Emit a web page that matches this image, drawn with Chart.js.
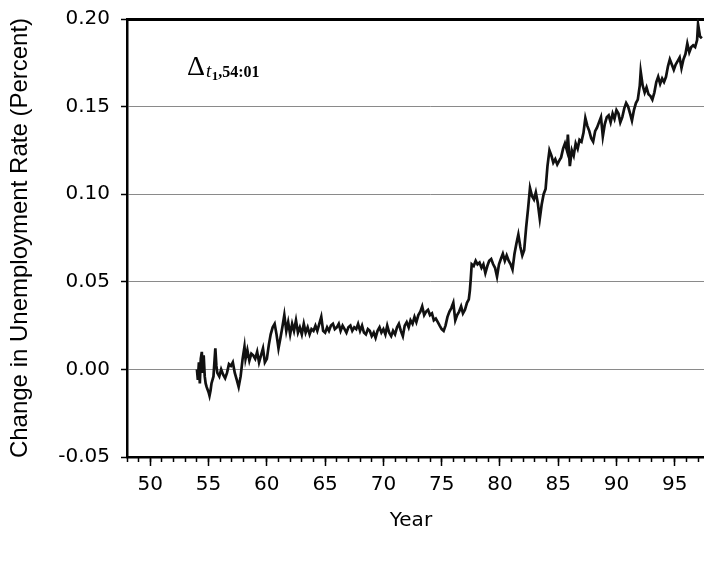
<!DOCTYPE html>
<html>
<head>
<meta charset="utf-8">
<script src="https://cdn.jsdelivr.net/npm/chart.js@4.4.1/dist/chart.umd.min.js"></script>
<style>
html,body{margin:0;padding:0;overflow:hidden;background:#fff}
#wrap{position:relative;width:736px;height:564px}
</style>
</head>
<body>
<div id="wrap"><canvas id="c"></canvas></div>
<script>
// Decimal years (monthly-ish samples)
const years = [
  54.00,54.08,54.17,54.25,54.33,54.42,54.50,54.58,54.67,54.75,54.83,
  55.00,55.08,55.17,55.25,55.42,55.50,55.58,55.67,55.75,55.92,
  56.08,56.25,56.42,56.58,56.75,56.92,
  57.08,57.25,57.42,57.58,57.75,57.92,
  58.08,58.17,58.33,58.50,58.67,58.83,
  59.00,59.17,59.33,59.50,59.67,59.83,
  60.00,60.17,60.33,60.50,60.67,60.83,
  61.00,61.17,61.33,61.50,61.67,61.83,
  62.00,62.17,62.33,62.50,62.67,62.83,
  63.00,63.17,63.33,63.50,63.67,63.83,
  64.00,64.17,64.33,64.50,64.67,64.83,
  65.00,65.17,65.33,65.50,65.67,65.83,
  66.00,66.17,66.33,66.50,66.67,66.83,
  67.00,67.17,67.33,67.50,67.67,67.83,
  68.00,68.17,68.33,68.50,68.67,68.83,
  69.00,69.17,69.33,69.50,69.67,69.83,
  70.00,70.17,70.33,70.50,70.67,70.83,
  71.00,71.17,71.33,71.50,71.67,71.83,
  72.00,72.17,72.33,72.50,72.67,72.83,
  73.00,73.17,73.33,73.50,73.67,73.83,
  74.00,74.17,74.33,74.50,74.67,74.83,
  75.00,75.17,75.33,75.50,75.67,75.83,
  76.00,76.17,76.33,76.50,76.67,76.83,
  77.00,77.17,77.33,77.42,77.50,77.58,77.75,77.92,
  78.08,78.25,78.42,78.58,78.75,78.92,
  79.08,79.25,79.42,79.58,79.75,79.92,
  80.08,80.25,80.42,80.58,80.75,80.92,
  81.08,81.25,81.42,81.58,81.75,81.92,
  82.08,82.25,82.42,82.58,82.75,82.92,
  83.08,83.25,83.42,83.58,83.75,83.92,
  84.08,84.25,84.42,84.58,84.75,84.92,
  85.08,85.25,85.42,85.58,85.75,85.83,
  86.00,86.17,86.33,86.50,86.67,86.83,
  87.00,87.17,87.33,87.50,87.67,87.83,
  88.00,88.17,88.33,88.50,88.67,88.83,
  89.00,89.17,89.33,89.50,89.67,89.83,
  90.00,90.17,90.33,90.50,90.67,90.83,
  91.00,91.17,91.33,91.50,91.67,91.83,
  92.00,92.08,92.25,92.42,92.58,92.75,92.92,
  93.08,93.25,93.42,93.58,93.75,93.92,
  94.08,94.25,94.42,94.58,94.75,94.92,
  95.08,95.25,95.42,95.58,95.75,95.92,
  96.08,96.25,96.42,96.58,96.75,96.92,
  97.00,97.17,97.33
];
// Change in unemployment rate since 54:01 (percent)
const changes = [
  0.000,-0.006,0.004,-0.008,0.006,0.010,-0.002,0.008,-0.004,-0.008,-0.010,
  -0.013,-0.015,-0.012,-0.008,-0.004,0.004,0.012,0.002,-0.002,-0.004,
  0.000,-0.003,-0.005,-0.002,0.003,0.002,
  0.004,-0.002,-0.006,-0.010,-0.004,0.006,
  0.013,0.006,0.011,0.005,0.009,0.008,
  0.006,0.010,0.004,0.008,0.012,0.004,
  0.006,0.014,0.020,0.024,0.026,0.020,
  0.012,0.018,0.024,0.031,0.022,0.027,
  0.020,0.026,0.022,0.028,0.021,0.024,
  0.020,0.026,0.021,0.024,0.020,0.023,
  0.022,0.025,0.022,0.026,0.030,0.022,
  0.021,0.024,0.022,0.025,0.026,0.023,
  0.024,0.026,0.022,0.025,0.023,0.021,
  0.024,0.025,0.022,0.024,0.023,0.026,
  0.022,0.025,0.021,0.020,0.023,0.022,
  0.019,0.021,0.018,0.022,0.024,0.021,
  0.023,0.020,0.025,0.021,0.019,0.022,
  0.020,0.024,0.026,0.022,0.019,0.025,
  0.027,0.024,0.028,0.026,0.030,0.027,
  0.031,0.033,0.036,0.031,0.033,0.034,
  0.031,0.032,0.028,0.029,0.027,0.025,
  0.023,0.022,0.025,0.030,0.033,0.035,
  0.038,0.028,0.031,0.033,0.036,0.032,
  0.034,0.038,0.040,0.045,0.052,0.060,0.059,0.062,
  0.060,0.061,0.058,0.060,0.055,0.059,
  0.062,0.063,0.060,0.058,0.053,0.060,
  0.063,0.066,0.062,0.065,0.062,0.060,
  0.057,0.066,0.072,0.077,0.070,0.065,
  0.068,0.081,0.092,0.1035,0.099,0.097,
  0.101,0.095,0.086,0.094,0.100,0.103,
  0.116,0.125,0.122,0.118,0.120,0.117,
  0.119,0.121,0.126,0.129,0.125,0.134,
  0.116,0.125,0.122,0.129,0.126,0.131,
  0.130,0.135,0.1435,0.139,0.136,0.132,
  0.130,0.136,0.138,0.141,0.144,0.133,
  0.140,0.144,0.145,0.141,0.146,0.143,
  0.148,0.146,0.141,0.144,0.149,0.152,
  0.150,0.146,0.142,0.148,0.152,0.154,
  0.162,0.170,0.162,0.158,0.161,0.157,0.156,
  0.154,0.158,0.164,0.167,0.163,0.166,
  0.164,0.167,0.173,0.177,0.174,0.171,
  0.174,0.176,0.178,0.172,0.177,0.180,
  0.186,0.181,0.184,0.185,0.184,0.188,
  0.197,0.190,0.189
];
const xTickLabels = ['50','55','60','65','70','75','80','85','90','95'];
const yTitle = 'Change in Unemployment Rate (Percent)';
const xTitle = 'Year';
const annotationMain = '\u0394';
const annotationSub = 't';
const annotationSubSub = '1';
const annotationRest = ',54:01';

const FAMILY = '"DejaVu Sans", "Liberation Sans", sans-serif';
const TITLEFAMILY = '"Liberation Sans", Arial, sans-serif';
const SERIF = '"Liberation Serif", "DejaVu Serif", serif';

const deltaLabel = {
  id: 'deltaLabel',
  afterDraw(chart) {
    const c = chart.ctx;
    c.save();
    c.fillStyle = '#000';
    c.textBaseline = 'alphabetic';
    c.textAlign = 'left';
    let x = 187, y = 75;
    c.font = '28px ' + SERIF;
    c.fillText(annotationMain, x, y);
    x += c.measureText(annotationMain).width + 1;
    c.font = 'italic 19px ' + SERIF;
    c.fillText(annotationSub, x, y + 2);
    x += c.measureText(annotationSub).width + 0.5;
    c.font = 'bold 13px ' + SERIF;
    c.fillText(annotationSubSub, x, y + 5);
    x += c.measureText(annotationSubSub).width;
    c.font = 'bold 16px ' + SERIF;
    c.fillText(annotationRest, x, y + 2);
    c.restore();
  }
};

new Chart(document.getElementById('c'), {
  type: 'line',
  data: {
    datasets: [{
      data: years.map((yr, i) => ({ x: yr, y: changes[i] })),
      borderColor: '#111',
      borderWidth: 2.7,
      pointRadius: 0,
      tension: 0,
      fill: false,
      xAxisID: 'x',
      yAxisID: 'y'
    }]
  },
  options: {
    responsive: true,
    maintainAspectRatio: false,
    animation: false,
    layout: { padding: { top: 19, left: 0, right: 0, bottom: 0 } },
    plugins: { legend: { display: false }, tooltip: { enabled: false } },
    scales: {
      x: {
        type: 'linear', position: 'bottom', weight: 0,
        min: 48, max: 100,
        afterFit(s) { s.height = 0; },
        ticks: { stepSize: 1, autoSkip: false, maxRotation: 0, callback: () => '' },
        grid: { drawOnChartArea: false, tickLength: 5, tickColor: '#000', tickWidth: 1.5 },
        border: { display: false }
      },
      xMajor: {
        type: 'linear', position: 'bottom', weight: 1,
        min: 48, max: 100,
        afterFit(s) { s.height = 107; s.paddingLeft = 0; s.paddingRight = 0; },
        ticks: {
          stepSize: 5, includeBounds: false, autoSkip: false, maxRotation: 0,
          padding: 7, color: '#000', font: { family: FAMILY, size: 20 },
          callback: v => xTickLabels.includes(String(v)) ? String(v) : ''
        },
        grid: { drawOnChartArea: false, tickLength: 9, tickColor: '#000', tickWidth: 1.5 },
        border: { display: true, color: '#000', width: 2.5 },
        title: {
          display: true,
          text: xTitle + '\u00a0\u00a0\u00a0\u00a0\u00a0\u00a0',
          color: '#000',
          font: { family: FAMILY, size: 20 },
          padding: { top: 0, bottom: 31 }
        }
      },
      xTop: {
        type: 'linear', position: 'top',
        min: 48, max: 100,
        afterFit(s) { s.height = 0; s.paddingLeft = 0; s.paddingRight = 0; },
        ticks: { display: false },
        grid: { drawOnChartArea: false, drawTicks: false },
        border: { display: true, color: '#000', width: 3 }
      },
      y: {
        type: 'linear', position: 'left',
        min: -0.05, max: 0.2,
        afterFit(s) { s.width = 127; s.paddingTop = 0; s.paddingBottom = 0; },
        ticks: {
          stepSize: 0.05, padding: 11, color: '#000',
          font: { family: FAMILY, size: 20 },
          callback: v => v.toFixed(2)
        },
        grid: {
          color: ctx => {
            const v = ctx.tick ? ctx.tick.value : null;
            return (v !== null && v > -0.01 && v < 0.16) ? '#8a8a8a' : 'rgba(0,0,0,0)';
          },
          lineWidth: 1,
          tickLength: 6, tickColor: '#000', tickWidth: 1.5
        },
        border: { display: true, color: '#000', width: 2.5 },
        title: {
          display: true, text: yTitle, color: '#000',
          font: { family: TITLEFAMILY, size: 24 },
          padding: { top: 6, bottom: 0 }
        }
      }
    }
  },
  plugins: [deltaLabel]
});
</script>
</body>
</html>
